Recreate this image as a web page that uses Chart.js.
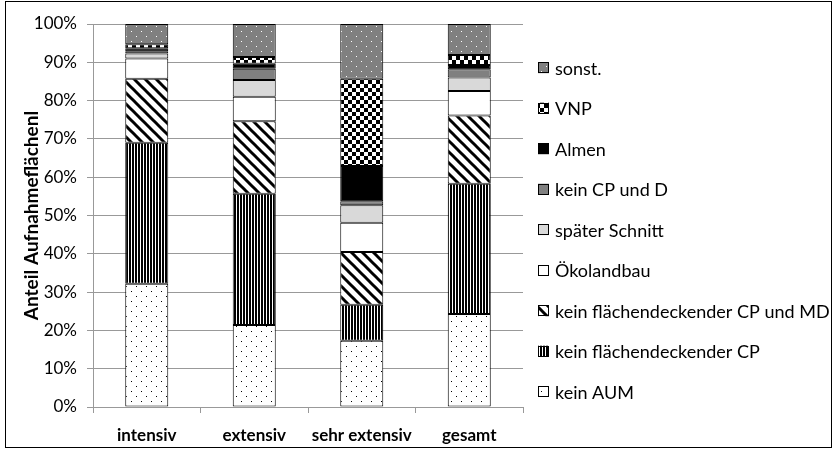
<!DOCTYPE html>
<html>
<head>
<meta charset="utf-8">
<script src="https://cdn.jsdelivr.net/npm/chart.js@4"></script>
<style>
  html, body { margin: 0; padding: 0; background: #fff; }
  #wrap { position: relative; width: 833px; height: 450px; }
  #frame { position: absolute; left: 5px; top: 1px; width: 827px; height: 447px;
           border: 1px solid #000; box-sizing: border-box; pointer-events: none; }
</style>
</head>
<body>
<div id="wrap">
  <canvas id="myChart" width="833" height="450"></canvas>
  <div id="frame"></div>
</div>
<script>
'use strict';

// data (percent of each bar)
let categories = ['intensiv', 'extensiv', 'sehr extensiv', 'gesamt'];
let keinAUM = [32.2, 21.4, 17.3, 24.3];
let keinFlCP = [36.8, 34.3, 9.4, 34.0];
let keinFlCPundMD = [16.7, 18.9, 13.8, 17.8];
let oekolandbau = [5.3, 6.4, 7.6, 6.4];
let spaeterSchnitt = [1.3, 4.4, 4.6, 3.5];
let keinCPundD = [0.6, 2.9, 1.0, 2.2];
let almen = [0.8, 1.3, 9.2, 1.1];
let vnp = [1.0, 1.8, 22.8, 2.6];
let sonst = [5.3, 8.6, 14.3, 8.1];
let yTicks = [0, 10, 20, 30, 40, 50, 60, 70, 80, 90, 100];

let fontFamily = 'Lato, "Open Sans", sans-serif';

// small tiles for the excel-style fills
function makePattern(size, drawTile) {
  let c = document.createElement('canvas');
  c.width = size;
  c.height = size;
  let g = c.getContext('2d');
  drawTile(g, size);
  return g.createPattern(c, 'repeat');
}

function dots(bg, dot) {
  return makePattern(10, function (g) {
    g.fillStyle = bg;
    g.fillRect(0, 0, 10, 10);
    g.fillStyle = dot;
    g.fillRect(1, 1, 1, 1);
    g.fillRect(6, 6, 1, 1);
  });
}

let vertStripes = makePattern(3, function (g) {
  g.fillStyle = '#fff';
  g.fillRect(0, 0, 3, 3);
  g.fillStyle = '#000';
  g.fillRect(0, 0, 2, 3);
});

let diagStripes = makePattern(11, function (g, s) {
  g.fillStyle = '#fff';
  g.fillRect(0, 0, s, s);
  g.strokeStyle = '#000';
  g.lineWidth = 3;
  [-s, 0, s].forEach(function (off) {
    g.beginPath();
    g.moveTo(-2, -2 + off);
    g.lineTo(s + 2, s + 2 + off);
    g.stroke();
  });
});

let checker = makePattern(8, function (g) {
  g.fillStyle = '#fff';
  g.fillRect(0, 0, 8, 8);
  g.fillStyle = '#000';
  g.fillRect(0, 0, 4, 4);
  g.fillRect(4, 4, 4, 4);
});

function makeSet(label, data, fill) {
  return {
    label: label,
    data: data,
    backgroundColor: fill,
    borderColor: '#000',
    borderWidth: 1,
    borderSkipped: false,
    barPercentage: 0.4,
    categoryPercentage: 1
  };
}

let datasets = [
  makeSet('kein AUM', keinAUM, dots('#fff', '#000')),
  makeSet('kein flächendeckender CP', keinFlCP, vertStripes),
  makeSet('kein flächendeckender CP und MD', keinFlCPundMD, diagStripes),
  makeSet('Ökolandbau', oekolandbau, '#fff'),
  makeSet('später Schnitt', spaeterSchnitt, '#d9d9d9'),
  makeSet('kein CP und D', keinCPundD, '#808080'),
  makeSet('Almen', almen, '#000'),
  makeSet('VNP', vnp, checker),
  makeSet('sonst.', sonst, dots('#808080', '#fff'))
];

// legend drawn at the right, top entry = last dataset
let sideLegend = {
  id: 'sideLegend',
  afterDraw(chart) {
    let ctx = chart.ctx;
    let sets = chart.data.datasets;
    let x = chart.chartArea.right + 15;
    let y = 67.7;
    ctx.save();
    ctx.font = '18px ' + fontFamily;
    ctx.textBaseline = 'middle';
    for (let i = sets.length - 1; i >= 0; i--) {
      ctx.fillStyle = sets[i].backgroundColor;
      ctx.fillRect(x, y - 5.5, 11, 11);
      ctx.strokeStyle = '#000';
      ctx.lineWidth = 1;
      ctx.strokeRect(x + 0.5, Math.round(y - 5.5) + 0.5, 10, 10);
      ctx.fillStyle = '#000';
      ctx.fillText(sets[i].label, x + 17, y + 1);
      y += 40.5;
    }
    ctx.restore();
  }
};

let ctx = document.getElementById('myChart').getContext('2d');
let myChart = new Chart(ctx, {
  type: 'bar',
  data: {
    labels: categories,
    datasets: datasets
  },
  plugins: [sideLegend],
  options: {
    responsive: false,
    animation: false,
    layout: { padding: { left: 13, top: 24, right: 310, bottom: 4 } },
    plugins: {
      legend: { display: false },
      tooltip: { enabled: false }
    },
    scales: {
      x: {
        stacked: true,
        grid: { offset: true, drawOnChartArea: false, tickLength: 6, color: '#999' },
        border: { color: '#999' },
        ticks: { color: '#000', padding: 12, font: { family: fontFamily, size: 17, weight: 'bold' } },
        afterFit: function (scale) { scale.height = 39; }
      },
      y: {
        stacked: true,
        min: 0,
        max: 100,
        afterBuildTicks: function (scale) {
          scale.ticks = yTicks.map(function (v) { return { value: v }; });
        },
        ticks: {
          color: '#000',
          padding: 10,
          font: { family: fontFamily, size: 17 },
          callback: function (v) { return v + '%'; }
        },
        grid: { color: '#999', tickLength: 6 },
        border: { color: '#999' },
        title: {
          display: true,
          text: 'Anteil Aufnahmeflächenl',
          color: '#000',
          font: { family: fontFamily, size: 19, weight: 'bold' },
          padding: { top: 7, bottom: 0 }
        },
        afterFit: function (scale) { scale.width = 80; }
      }
    }
  }
});
</script>
</body>
</html>
